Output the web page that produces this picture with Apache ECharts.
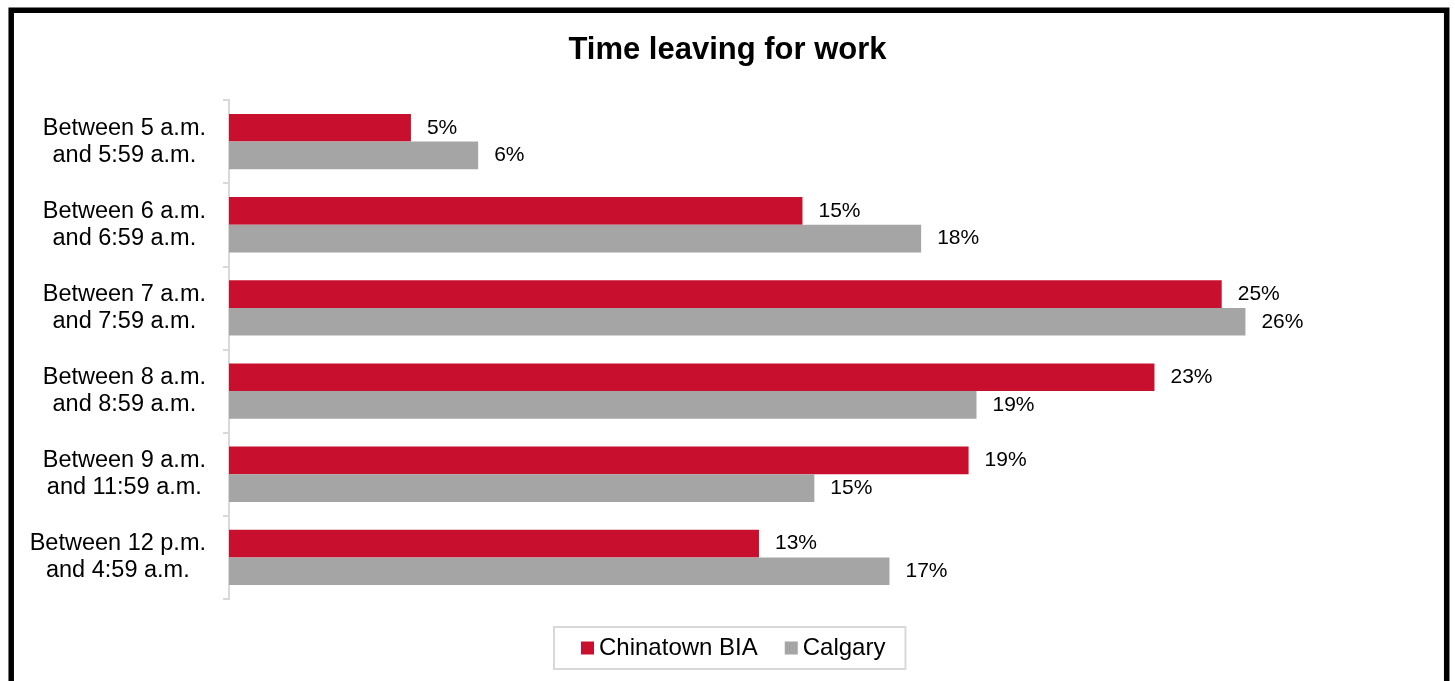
<!DOCTYPE html>
<html>
<head>
<meta charset="utf-8">
<title>Time leaving for work</title>
<script src="https://cdn.jsdelivr.net/npm/echarts@6/dist/echarts.min.js"></script>
<style>
    html, body { margin: 0; padding: 0; background: #fff; }
    #chart { width: 1455px; height: 681px; }
</style>
</head>
<body>
<div id="chart"></div>
<script>
// values (labels show them rounded)
var categories = [
    'Between 5 a.m.\nand 5:59 a.m.',
    'Between 6 a.m.\nand 6:59 a.m.',
    'Between 7 a.m.\nand 7:59 a.m.',
    'Between 8 a.m.\nand 8:59 a.m.',
    'Between 9 a.m.\nand 11:59 a.m.',
    'Between 12 p.m.\nand 4:59 a.m.'
];
var chinatown = [4.6, 14.5, 25.1, 23.4, 18.7, 13.4];
var calgary = [6.3, 17.5, 25.7, 18.9, 14.8, 16.7];

var FONT = '"Liberation Sans", Arial, sans-serif';

function barLabel() {
    return {
        show: true,
        position: 'right',
        distance: 16,
        color: '#000',
        fontFamily: FONT,
        fontSize: 21,
        formatter: function (p) {
            return Math.round(p.value) + '%';
        }
    };
}

var chart = echarts.init(document.getElementById('chart'));

chart.setOption({
    animation: false,
    title: {
        text: 'Time leaving for work',
        left: 'center',
        top: 35,
        padding: 0,
        textStyle: { fontFamily: FONT, fontSize: 31, fontWeight: 'bold', color: '#000' }
    },
    legend: {
        left: 554,
        top: 627,
        padding: [9, 20, 9, 27],
        itemGap: 27,
        itemWidth: 13,
        itemHeight: 13,
        icon: 'rect',
        borderColor: '#d9d9d9',
        borderWidth: 2,
        textStyle: { fontFamily: FONT, fontSize: 24, color: '#000' },
        data: ['Chinatown BIA', 'Calgary']
    },
    grid: { left: 229, right: 39.5, top: 100, bottom: 82 },
    xAxis: {
        type: 'value',
        min: 0,
        max: 30,
        show: false
    },
    yAxis: {
        type: 'category',
        inverse: true,
        data: categories,
        axisLine: { show: true, lineStyle: { color: '#d9d9d9', width: 2 } },
        axisTick: { show: true, length: 6, alignWithLabel: false, lineStyle: { color: '#d9d9d9', width: 2 } },
        axisLabel: {
            margin: 23,
            align: 'right',
            formatter: function (v) {
                return v.split('\n').map(function (l) { return '{c|' + l + '}'; }).join('\n');
            },
            rich: {
                c: { align: 'center', fontFamily: FONT, fontSize: 23.5, lineHeight: 27, color: '#000' }
            }
        }
    },
    series: [
        {
            name: 'Chinatown BIA',
            type: 'bar',
            data: chinatown,
            barWidth: 27.7,
            barGap: '0%',
            itemStyle: { color: '#c8102e' },
            label: barLabel()
        },
        {
            name: 'Calgary',
            type: 'bar',
            data: calgary,
            barWidth: 27.7,
            barGap: '0%',
            itemStyle: { color: '#a5a5a5' },
            label: barLabel()
        }
    ],
    graphic: [
        {
            type: 'rect',
            silent: true,
            shape: { x: 11.2, y: 10.3, width: 1435.5, height: 720 },
            style: { fill: 'none', stroke: '#000', lineWidth: 5.5 }
        }
    ]
});
</script>
</body>
</html>
